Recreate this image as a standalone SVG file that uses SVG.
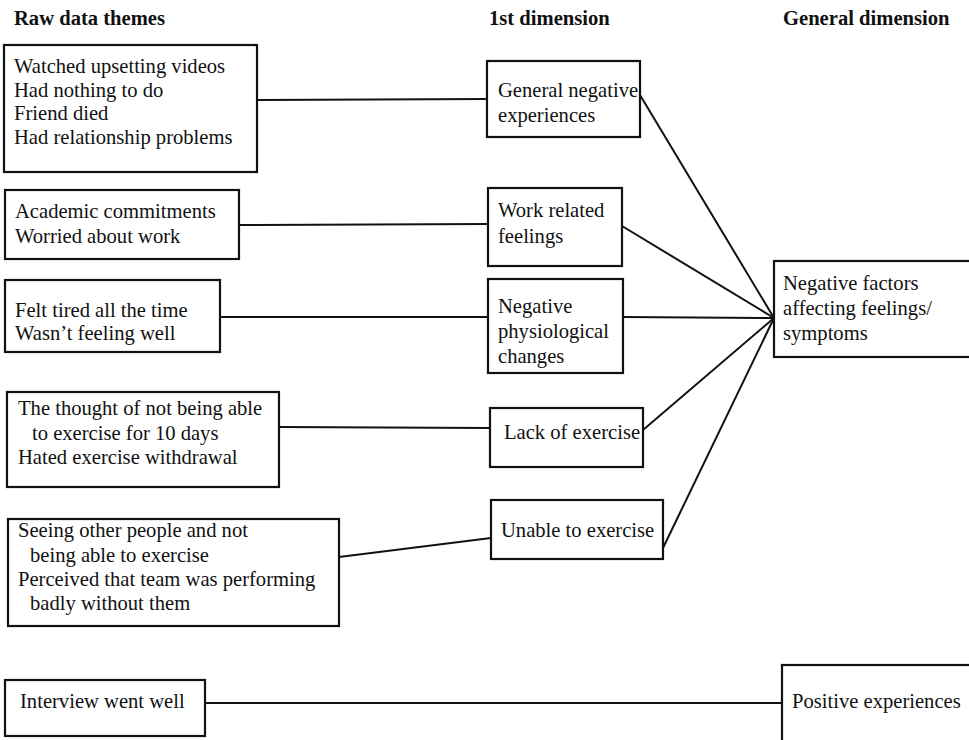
<svg xmlns="http://www.w3.org/2000/svg" width="969" height="740" viewBox="0 0 969 740">
  <style>
    text { font-family: "Liberation Serif", "Times New Roman", serif; font-size: 20.6px; fill: #111; }
    .hdr { font-weight: bold; font-size: 20.6px; }
    .box { fill: #fff; stroke: #111; stroke-width: 2.2; }
    .link { fill: none; stroke: #111; stroke-width: 2; }
  </style>
  <rect width="969" height="740" fill="#fff"/>

  <!-- column headings -->
  <g id="headings">
    <text class="hdr" x="14" y="25">Raw data themes</text>
    <text class="hdr" x="489" y="25">1st dimension</text>
    <text class="hdr" x="783" y="25">General dimension</text>
  </g>

  <!-- connectors -->
  <g id="connectors">
    <line class="link" x1="257" y1="100" x2="487" y2="99"/>
    <line class="link" x1="239" y1="225" x2="488" y2="224"/>
    <line class="link" x1="220" y1="317" x2="488" y2="317"/>
    <line class="link" x1="279" y1="427" x2="490" y2="428"/>
    <line class="link" x1="339" y1="557" x2="491" y2="538"/>
    <line class="link" x1="640" y1="95" x2="774" y2="318"/>
    <line class="link" x1="622" y1="226" x2="774" y2="318"/>
    <line class="link" x1="623" y1="317" x2="774" y2="318"/>
    <line class="link" x1="643" y1="430" x2="774" y2="318"/>
    <line class="link" x1="663" y1="548" x2="774" y2="318"/>
    <line class="link" x1="205" y1="703" x2="782" y2="703"/>
  </g>

  <!-- raw data themes -->
  <g id="raw-general">
    <rect class="box" x="4" y="45" width="253" height="127"/>
    <text x="14" y="73">Watched upsetting videos</text>
    <text x="14" y="97">Had nothing to do</text>
    <text x="14" y="120">Friend died</text>
    <text x="14" y="144">Had relationship problems</text>
  </g>
  <g id="raw-work">
    <rect class="box" x="5" y="190" width="234" height="69"/>
    <text x="15" y="218">Academic commitments</text>
    <text x="15" y="243">Worried about work</text>
  </g>
  <g id="raw-physio">
    <rect class="box" x="5" y="280" width="215" height="72"/>
    <text x="15" y="317">Felt tired all the time</text>
    <text x="15" y="340">Wasn’t feeling well</text>
  </g>
  <g id="raw-lack">
    <rect class="box" x="7" y="392" width="272" height="95"/>
    <text x="18" y="415">The thought of not being able</text>
    <text x="32" y="440">to exercise for 10 days</text>
    <text x="18" y="464">Hated exercise withdrawal</text>
  </g>
  <g id="raw-unable">
    <rect class="box" x="8" y="519" width="331" height="107"/>
    <text x="18" y="537">Seeing other people and not</text>
    <text x="30" y="562">being able to exercise</text>
    <text x="18" y="586">Perceived that team was performing</text>
    <text x="30" y="610">badly without them</text>
  </g>
  <g id="raw-interview">
    <rect class="box" x="5" y="680" width="200" height="56"/>
    <text x="20" y="708">Interview went well</text>
  </g>

  <!-- 1st dimension -->
  <g id="dim-general-negative">
    <rect class="box" x="487" y="61" width="153" height="76"/>
    <text x="498" y="97">General negative</text>
    <text x="498" y="122">experiences</text>
  </g>
  <g id="dim-work">
    <rect class="box" x="488" y="188" width="134" height="78"/>
    <text x="498" y="217">Work related</text>
    <text x="498" y="243">feelings</text>
  </g>
  <g id="dim-physio">
    <rect class="box" x="488" y="279" width="135" height="94"/>
    <text x="498" y="313">Negative</text>
    <text x="498" y="338">physiological</text>
    <text x="498" y="363">changes</text>
  </g>
  <g id="dim-lack">
    <rect class="box" x="490" y="408" width="153" height="59"/>
    <text x="504" y="439">Lack of exercise</text>
  </g>
  <g id="dim-unable">
    <rect class="box" x="491" y="500" width="172" height="59"/>
    <text x="501" y="537">Unable to exercise</text>
  </g>

  <!-- general dimension -->
  <g id="gen-negative">
    <rect class="box" x="774" y="261" width="200" height="96"/>
    <text x="783" y="290">Negative factors</text>
    <text x="783" y="315">affecting feelings/</text>
    <text x="783" y="340">symptoms</text>
  </g>
  <g id="gen-positive">
    <rect class="box" x="782" y="665" width="200" height="78"/>
    <text x="792" y="708">Positive experiences</text>
  </g>
</svg>
